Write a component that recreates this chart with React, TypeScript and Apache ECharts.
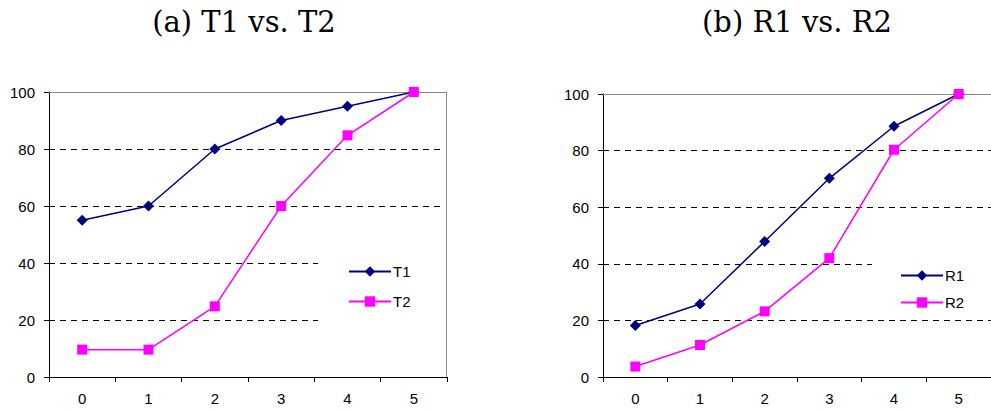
import React, { useEffect, useRef } from "react";
import * as echarts from "echarts";

const categories = ["0", "1", "2", "3", "4", "5"];
const t1 = [55, 60, 80, 90, 95, 100];
const t2 = [9.6, 9.6, 24.8, 60, 84.8, 100];
const r1 = [18.2, 25.8, 47.9, 70.2, 88.6, 100];
const r2 = [3.7, 11.3, 23.2, 42, 80.3, 100];
const titleA = "(a) T1 vs. T2";
const titleB = "(b) R1 vs. R2";

const NAVY = "#000080";
const MAGENTA = "#FF00FF";
const AXIS_FONT = "Arial";
const FS = 15;

function makeX(gridIndex: number) {
  return {
    type: "category",
    gridIndex,
    data: categories,
    boundaryGap: true,
    z: 3,
    axisLine: { show: true, lineStyle: { color: "#000", width: 1 } },
    axisTick: { show: true, length: 5, inside: false, alignWithLabel: false, lineStyle: { color: "#000" } },
    axisLabel: { show: true, color: "#000", fontSize: FS, fontFamily: AXIS_FONT, margin: 14 },
    splitLine: { show: false },
  };
}

function makeY(gridIndex: number) {
  return {
    type: "value",
    gridIndex,
    min: 0,
    max: 100,
    interval: 20,
    z: 3,
    axisLine: { show: true, lineStyle: { color: "#000", width: 1 } },
    axisTick: { show: true, length: 5, inside: false, lineStyle: { color: "#000" } },
    axisLabel: { show: true, color: "#000", fontSize: FS, fontFamily: AXIS_FONT, margin: 14 },
    splitLine: { show: true, lineStyle: { color: "#000", type: [6, 5], width: 1 } },
  };
}

function lineSeries(name: string, data: number[], idx: number, color: string, symbol: string, size: number) {
  return {
    name,
    type: "line",
    xAxisIndex: idx,
    yAxisIndex: idx,
    data,
    symbol,
    symbolSize: size,
    showAllSymbol: true,
    lineStyle: { color, width: 1.5 },
    itemStyle: { color },
    z: 5,
  };
}

export default function App() {
  const ref = useRef<HTMLDivElement>(null);
  useEffect(() => {
    if (!ref.current) return;
    const chart = echarts.init(ref.current, null, { renderer: "svg" });
    const legendCommon = {
      orient: "vertical",
      itemWidth: 42,
      itemHeight: 13,
      textStyle: { color: "#000", fontSize: FS, fontFamily: AXIS_FONT, padding: [0, 0, 0, -3] },
      z: 6,
    };
    const border = { stroke: "#888", lineWidth: 1 };
    chart.setOption({
      animation: false,
      backgroundColor: "#fff",
      textStyle: { fontFamily: AXIS_FONT, fontSize: FS },
      grid: [
        { left: 49, top: 92, width: 398, height: 285, show: false },
        { left: 603, top: 94, width: 394, height: 283, show: false },
      ],
      xAxis: [makeX(0), makeX(1)],
      yAxis: [makeY(0), makeY(1)],
      legend: [
        { ...legendCommon, data: ["T1", "T2"], left: 343, top: 259, itemGap: 15 },
        { ...legendCommon, data: ["R1", "R2"], left: 895, top: 263, itemGap: 12 },
      ],
      graphic: [
        { type: "rect", z: 4, silent: true, shape: { x: 318, y: 254, width: 128, height: 74 }, style: { fill: "#fff" } },
        { type: "rect", z: 4, silent: true, shape: { x: 872, y: 257, width: 119, height: 60 }, style: { fill: "#fff" } },
        { type: "rect", z: 4, silent: true, shape: { x: 442, y: 93, width: 4.5, height: 283 }, style: { fill: "#fff" } },
        { type: "line", z: 4, silent: true, shape: { x1: 49, y1: 92.5, x2: 447, y2: 92.5 }, style: border },
        { type: "line", z: 4, silent: true, shape: { x1: 446.5, y1: 92, x2: 446.5, y2: 377 }, style: border },
        { type: "line", z: 4, silent: true, shape: { x1: 603, y1: 94.5, x2: 991, y2: 94.5 }, style: border },
        { type: "text", z: 6, x: 244, y: 22, style: { text: titleA, font: "29px 'DejaVu Serif', serif", fill: "#000", align: "center", verticalAlign: "middle" } },
        { type: "text", z: 6, x: 797, y: 22, style: { text: titleB, font: "29px 'DejaVu Serif', serif", fill: "#000", align: "center", verticalAlign: "middle" } },
      ],
      series: [
        lineSeries("T1", t1, 0, NAVY, "diamond", 11),
        lineSeries("T2", t2, 0, MAGENTA, "rect", 10),
        lineSeries("R1", r1, 1, NAVY, "diamond", 11),
        lineSeries("R2", r2, 1, MAGENTA, "rect", 10),
      ],
    });
    return () => chart.dispose();
  }, []);
  return <div ref={ref} style={{ width: 991, height: 412, position: "absolute", left: 0, top: 0 }} />;
}
